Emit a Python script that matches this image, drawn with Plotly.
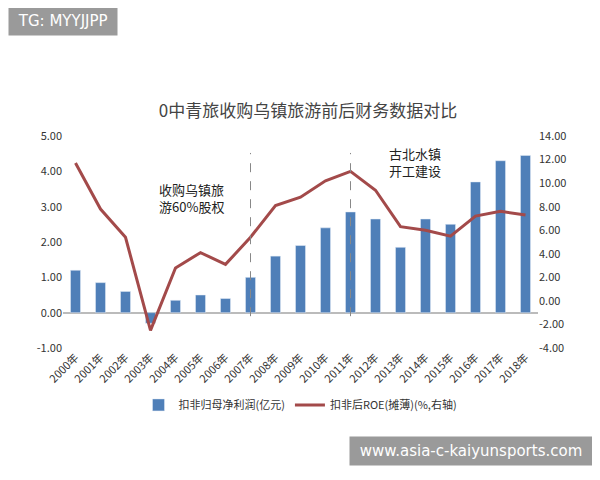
import plotly.graph_objects as go

years = [f"{y}年" for y in range(2000, 2019)]
profit = [1.2, 0.85, 0.6, -0.3, 0.35, 0.5, 0.4, 1.0, 1.6, 1.9, 2.4, 2.85, 2.65, 1.85, 2.65, 2.5, 3.7, 4.3, 4.45]
roe = [11.7, 7.8, 5.4, -2.5, 2.8, 4.1, 3.1, 5.4, 8.1, 8.8, 10.2, 11.0, 9.4, 6.3, 6.0, 5.5, 7.2, 7.6, 7.3]
left_ticks = [-1, 0, 1, 2, 3, 4, 5]
right_ticks = [-4, -2, 0, 2, 4, 6, 8, 10, 12, 14]

font = "Noto Sans CJK SC"
fig = go.Figure()
fig.add_trace(go.Bar(x=years, y=profit, name="扣非归母净利润(亿元)", marker_color="#4F7FB8", width=0.4))
fig.add_trace(go.Scatter(x=years, y=roe, name="扣非后ROE(摊薄)(%,右轴)", yaxis="y2",
                         mode="lines", line=dict(color="#A34A4A", width=3)))

for yr in ["2007年", "2011年"]:
    fig.add_shape(type="line", xref="x", yref="paper", x0=yr, x1=yr, y0=0.15, y1=0.92,
                  line=dict(color="#888", width=1, dash="dash"))

fig.add_annotation(x=0.27, y=0.80, xref="paper", yref="paper", xanchor="center", text="收购乌镇旅<br>游60%股权",
                   showarrow=False, font=dict(size=13, color="#222", family=font), align="left")
fig.add_annotation(x=0.74, y=0.97, xref="paper", yref="paper", xanchor="center", text="古北水镇<br>开工建设",
                   showarrow=False, font=dict(size=13, color="#222", family=font), align="left")

fig.add_annotation(x=0, y=1, xref="paper", yref="paper", xanchor="left", yanchor="top",
                   text=" TG: MYYJJPP ", showarrow=False, bgcolor="#9a9a9a",
                   font=dict(size=15, color="white", family="DejaVu Sans"),
                   xshift=-55, yshift=130, borderpad=5)
fig.add_annotation(x=1, y=0, xref="paper", yref="paper", xanchor="right", yanchor="bottom",
                   text=" www.asia-c-kaiyunsports.com ", showarrow=False, bgcolor="#9a9a9a",
                   font=dict(size=15, color="white", family="DejaVu Sans"),
                   xshift=55, yshift=-118, borderpad=5)

fig.update_layout(
    width=600, height=480, plot_bgcolor="white", paper_bgcolor="white",
    margin=dict(l=55, r=70, t=128, b=140),
    title=dict(text="0中青旅收购乌镇旅游前后财务数据对比", x=0.5, y=0.785, yanchor="middle",
               font=dict(size=17, color="#444", family=font)),
    font=dict(family=font, size=11, color="#333"),
    bargap=0.5,
    xaxis=dict(tickangle=-45, showline=False, tickfont=dict(size=11)),
    yaxis=dict(range=[-1, 5], tickvals=left_ticks, ticktext=[f"{v:.2f}" for v in left_ticks],
               showgrid=False, zeroline=True, zerolinecolor="#bbb"),
    yaxis2=dict(range=[-4, 14], tickvals=right_ticks, ticktext=[f"{v:.2f}" for v in right_ticks],
                overlaying="y", side="right", showgrid=False, zeroline=False),
    legend=dict(orientation="h", x=0.5, xanchor="center", y=-0.2, yanchor="top",
                font=dict(size=11)),
)
fig.write_html("out.html")
